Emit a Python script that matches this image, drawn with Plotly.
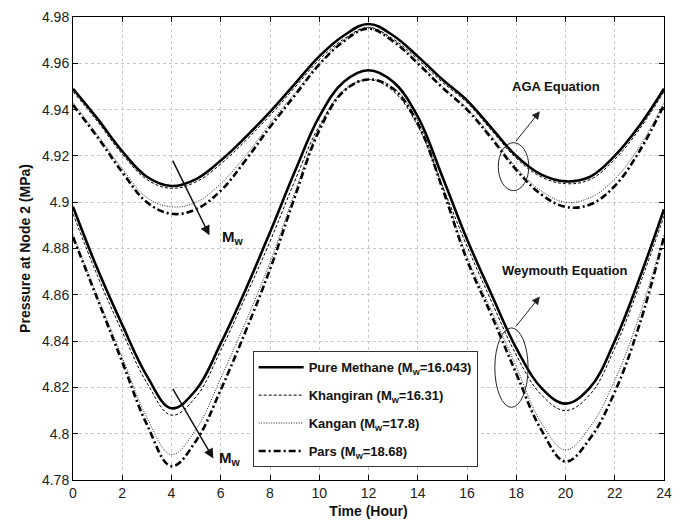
import plotly.graph_objects as go

hours = list(range(25))

# AGA equation
aga_pure = [4.949, 4.936, 4.922, 4.911, 4.907, 4.910, 4.918, 4.928, 4.939, 4.951, 4.963, 4.972, 4.977,
            4.972, 4.963, 4.953, 4.944, 4.932, 4.920, 4.912, 4.909, 4.911, 4.920, 4.933, 4.949]
aga_khangiran = [4.9478, 4.9348, 4.9208, 4.9098, 4.906, 4.9088, 4.9165, 4.9265, 4.9375, 4.9495, 4.9615, 4.9705, 4.9755,
                 4.9705, 4.9617, 4.9518, 4.943, 4.931, 4.919, 4.911, 4.908, 4.9098, 4.9185, 4.9315, 4.9478]
aga_kangan = [4.943, 4.929, 4.9145, 4.902, 4.898, 4.900, 4.908, 4.920, 4.934, 4.947, 4.960, 4.9698, 4.975,
              4.9698, 4.9605, 4.950, 4.9405, 4.9285, 4.915, 4.905, 4.900, 4.902, 4.910, 4.924, 4.943]
aga_pars = [4.942, 4.928, 4.913, 4.900, 4.895, 4.897, 4.905, 4.918, 4.9325, 4.946, 4.9595, 4.9695, 4.975,
            4.9695, 4.960, 4.9495, 4.940, 4.9275, 4.914, 4.9035, 4.898, 4.899, 4.907, 4.922, 4.942]

# Weymouth equation
wey_pure = [4.898, 4.871, 4.847, 4.825, 4.811, 4.819, 4.839, 4.862, 4.887, 4.913, 4.937, 4.952, 4.957,
            4.952, 4.937, 4.911, 4.884, 4.860, 4.837, 4.820, 4.813, 4.820, 4.840, 4.867, 4.897]
wey_khangiran = [4.895, 4.868, 4.844, 4.822, 4.808, 4.816, 4.836, 4.859, 4.883, 4.909, 4.933, 4.948, 4.953,
                 4.948, 4.933, 4.907, 4.881, 4.857, 4.834, 4.817, 4.810, 4.817, 4.837, 4.864, 4.894]
wey_kangan = [4.886, 4.859, 4.833, 4.807, 4.791, 4.802, 4.824, 4.848, 4.874, 4.904, 4.932, 4.9485, 4.953,
              4.9495, 4.935, 4.907, 4.8765, 4.853, 4.829, 4.805, 4.793, 4.803, 4.823, 4.851, 4.886]
wey_pars = [4.885, 4.858, 4.831, 4.804, 4.786, 4.797, 4.819, 4.844, 4.871, 4.902, 4.931, 4.948, 4.953,
            4.949, 4.934, 4.906, 4.875, 4.851, 4.826, 4.802, 4.788, 4.798, 4.818, 4.847, 4.885]

names = ["Pure Methane (M<sub>w</sub>=16.043)", "Khangiran (M<sub>w</sub>=16.31)",
         "Kangan (M<sub>w</sub>=17.8)", "Pars (M<sub>w</sub>=18.68)"]
x_ticks = list(range(0, 25, 2))
y_ticks = [4.78, 4.80, 4.82, 4.84, 4.86, 4.88, 4.90, 4.92, 4.94, 4.96, 4.98]
y_tick_text = ["4.78", "4.8", "4.82", "4.84", "4.86", "4.88", "4.9", "4.92", "4.94", "4.96", "4.98"]

styles = [
    dict(color="black", width=2.6, dash="solid"),
    dict(color="black", width=1.0, dash="3px,2px"),
    dict(color="#222222", width=1.0, dash="1px,1.5px"),
    dict(color="black", width=2.6, dash="7px,3px,2px,3px"),
]

FONT = "Liberation Sans, Arial, sans-serif"
fig = go.Figure()
aga = [aga_pure, aga_khangiran, aga_kangan, aga_pars]
wey = [wey_pure, wey_khangiran, wey_kangan, wey_pars]
for i in range(4):
    fig.add_trace(go.Scatter(x=hours, y=aga[i], mode="lines", name=names[i], legendgroup=f"g{i}",
                             line=dict(shape="spline", smoothing=1.1, **styles[i])))
    fig.add_trace(go.Scatter(x=hours, y=wey[i], mode="lines", name=names[i], legendgroup=f"g{i}",
                             showlegend=False,
                             line=dict(shape="spline", smoothing=1.1, **styles[i])))

axis_common = dict(showline=True, linecolor="black", linewidth=1, mirror="ticks",
                   ticks="inside", ticklen=5, tickcolor="black", automargin=False,
                   showgrid=True, gridcolor="#c8c8c8", griddash="dot", gridwidth=1,
                   zeroline=False, tickfont=dict(family=FONT, size=14, color="#222222"))

fig.update_xaxes(range=[0, 24], tickvals=x_ticks,
                 title=dict(text="Time (Hour)", font=dict(family=FONT, size=14, color="#111111", weight="bold"),
                            standoff=6),
                 **axis_common)
fig.update_yaxes(range=[4.78, 4.98], tickvals=y_ticks, ticktext=y_tick_text,
                 title=dict(text="Pressure at Node 2 (MPa)", font=dict(family=FONT, size=14, color="#111111", weight="bold"),
                            standoff=8),
                 **axis_common)

ann_font = dict(family=FONT, size=13, color="#111111", weight="bold")
mw_font = dict(family=FONT, size=15, color="#111111", weight="bold")
annotations = [
    dict(x=19.63, y=4.95, text="AGA Equation", showarrow=False, font=ann_font),
    dict(x=19.97, y=4.8707, text="Weymouth Equation", showarrow=False, font=ann_font),
    dict(x=18.96, y=4.9393, ax=17.94, ay=4.9257, axref="x", ayref="y", text="", showarrow=True,
         arrowhead=2, arrowsize=1.6, arrowwidth=1, arrowcolor="#222222"),
    dict(x=18.96, y=4.8593, ax=17.94, ay=4.8457, axref="x", ayref="y", text="", showarrow=True,
         arrowhead=2, arrowsize=1.6, arrowwidth=1, arrowcolor="#222222"),
    dict(x=5.54, y=4.8857, ax=4.02, ay=4.9186, axref="x", ayref="y", text="", showarrow=True,
         arrowhead=2, arrowsize=1.3, arrowwidth=1.5, arrowcolor="#111111"),
    dict(x=5.7, y=4.7893, ax=4.02, ay=4.82, axref="x", ayref="y", text="", showarrow=True,
         arrowhead=2, arrowsize=1.3, arrowwidth=1.5, arrowcolor="#111111"),
    dict(x=5.95, y=4.8847, text="M<sub>w</sub>", showarrow=False, xanchor="left", font=mw_font),
    dict(x=5.85, y=4.7892, text="M<sub>w</sub>", showarrow=False, xanchor="left", font=mw_font),
]

shapes = [
    dict(type="circle", xref="x", yref="y", x0=17.27, x1=18.51, y0=4.905, y1=4.9257,
         line=dict(color="#222222", width=1)),
    dict(type="circle", xref="x", yref="y", x0=17.13, x1=18.48, y0=4.8114, y1=4.8457,
         line=dict(color="#222222", width=1)),
]

fig.update_layout(
    width=686, height=523,
    margin=dict(l=73, r=22, t=17, b=43),
    paper_bgcolor="white", plot_bgcolor="white",
    font=dict(family=FONT, size=13, color="#111111"),
    annotations=annotations, shapes=shapes,
    legend=dict(x=0.304, y=0.278, xanchor="left", yanchor="top",
                bgcolor="white", bordercolor="#333333", borderwidth=1,
                font=dict(family=FONT, size=13, color="#111111", weight="bold"),
                itemwidth=45, tracegroupgap=8),
)

fig.write_html("out.html")
